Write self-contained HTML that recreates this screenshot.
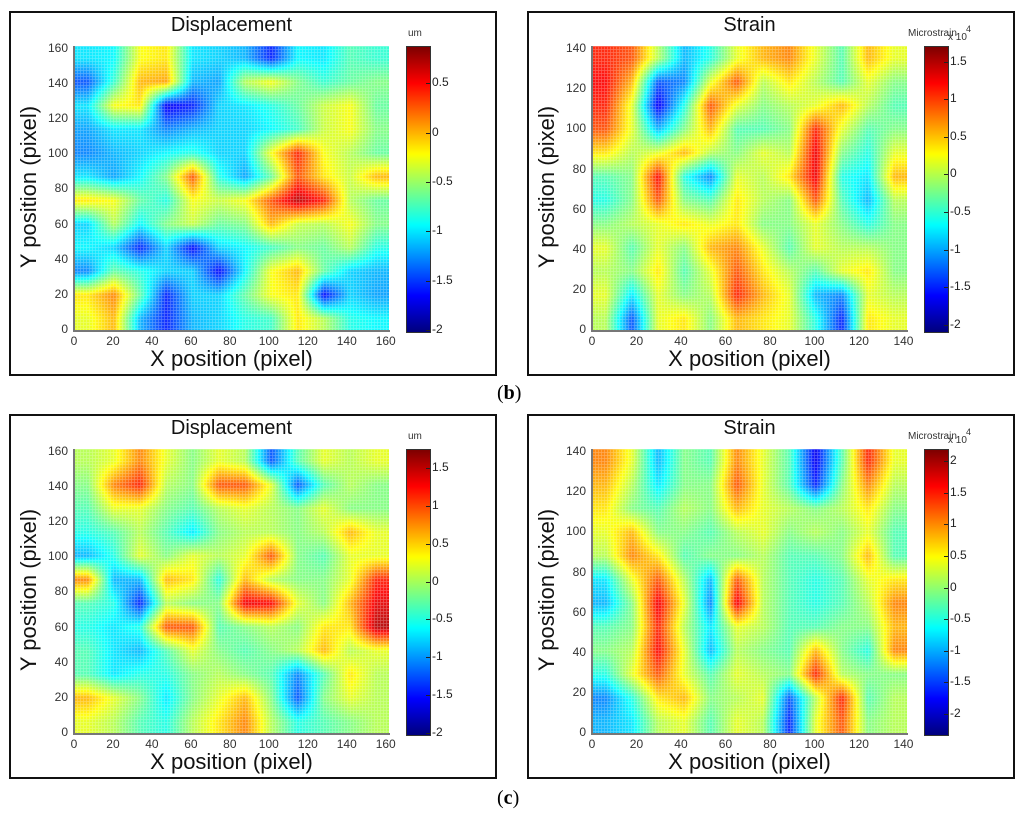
<!DOCTYPE html>
<html><head><meta charset="utf-8">
<style>
body{margin:0;background:#fff;width:1024px;height:815px;overflow:hidden;font-family:"Liberation Sans",sans-serif}
#root{position:relative;width:1024px;height:815px}
.panel{position:absolute;border:2px solid #111;box-sizing:border-box;background:#fff}
canvas{position:absolute}
.t{position:absolute;white-space:nowrap;color:#111}
.plab{position:absolute;font-family:"Liberation Serif",serif;font-size:20px}
</style></head><body>
<div id="root">
<div class="plab" style="left:497px;top:382px">(<b>b</b>)</div>
<div class="plab" style="left:497px;top:787px">(<b>c</b>)</div>
</div>
<script>
// Displacement (b), normalized colormap levels, rows top->bottom
const dispB = [
[.35,.37,.62,.65,.35,.33,.3,.15,.37,.35,.45,.42],
[.2,.42,.7,.72,.3,.28,.55,.62,.5,.42,.47,.5],
[.35,.62,.65,.1,.15,.33,.35,.4,.47,.57,.62,.47],
[.28,.35,.35,.25,.3,.33,.33,.37,.43,.57,.62,.5],
[.25,.3,.33,.37,.4,.33,.33,.62,.85,.62,.55,.47],
[.35,.28,.37,.5,.8,.4,.28,.47,.8,.65,.57,.7],
[.65,.62,.47,.4,.62,.57,.62,.8,.95,.85,.55,.47],
[.33,.55,.37,.5,.57,.47,.5,.7,.57,.55,.62,.5],
[.37,.33,.15,.33,.12,.33,.37,.43,.5,.47,.55,.4],
[.25,.47,.4,.33,.33,.12,.37,.62,.7,.47,.33,.3],
[.65,.75,.47,.15,.33,.33,.47,.62,.65,.12,.33,.28],
[.6,.7,.3,.15,.3,.33,.4,.43,.65,.55,.4,.37]];
const strainB = [
[.85,.8,.55,.3,.4,.6,.7,.75,.6,.45,.7,.6],
[.88,.7,.2,.25,.6,.8,.55,.65,.55,.45,.6,.5],
[.85,.6,.1,.4,.8,.6,.5,.55,.6,.7,.55,.45],
[.8,.6,.3,.5,.7,.45,.45,.5,.85,.6,.45,.5],
[.65,.55,.6,.7,.55,.5,.6,.55,.9,.5,.4,.6],
[.45,.5,.88,.4,.25,.6,.55,.65,.9,.4,.35,.7],
[.4,.5,.8,.5,.45,.65,.55,.5,.8,.45,.3,.55],
[.5,.55,.6,.65,.6,.65,.5,.5,.6,.5,.4,.5],
[.6,.45,.6,.5,.7,.75,.6,.45,.6,.55,.55,.5],
[.55,.5,.65,.45,.6,.8,.65,.55,.45,.6,.65,.5],
[.6,.35,.6,.5,.55,.85,.7,.6,.3,.25,.6,.55],
[.55,.2,.6,.65,.5,.7,.65,.6,.4,.15,.65,.6]];
const dispC = [
[.55,.6,.75,.6,.5,.6,.55,.2,.45,.6,.55,.6],
[.5,.75,.85,.55,.5,.8,.8,.6,.2,.45,.55,.5],
[.45,.6,.6,.5,.45,.55,.6,.55,.5,.6,.5,.5],
[.4,.45,.55,.45,.35,.5,.55,.55,.5,.55,.7,.6],
[.3,.4,.6,.5,.6,.55,.6,.8,.5,.45,.6,.6],
[.75,.3,.3,.7,.65,.4,.7,.55,.5,.5,.6,.85],
[.45,.4,.15,.55,.5,.5,.9,.88,.6,.5,.7,.9],
[.4,.35,.4,.8,.8,.45,.5,.55,.5,.65,.65,.95],
[.45,.35,.3,.45,.6,.5,.45,.5,.55,.7,.55,.6],
[.45,.35,.4,.4,.5,.55,.5,.45,.25,.45,.65,.55],
[.7,.6,.5,.35,.5,.6,.7,.5,.2,.5,.6,.55],
[.6,.55,.45,.4,.55,.65,.75,.55,.4,.45,.5,.55]];
const strainC = [
[.75,.6,.3,.5,.45,.75,.6,.45,.1,.45,.85,.6],
[.7,.55,.35,.5,.5,.8,.6,.45,.15,.5,.75,.55],
[.65,.5,.45,.55,.5,.7,.6,.55,.5,.55,.65,.5],
[.6,.7,.5,.5,.45,.55,.6,.5,.55,.5,.6,.45],
[.55,.75,.65,.45,.5,.5,.55,.45,.45,.5,.7,.45],
[.35,.6,.8,.55,.3,.8,.55,.45,.4,.45,.6,.65],
[.3,.5,.9,.6,.25,.9,.55,.45,.4,.45,.55,.75],
[.45,.5,.85,.55,.35,.6,.55,.45,.45,.5,.5,.7],
[.5,.55,.88,.6,.3,.55,.5,.45,.7,.5,.4,.75],
[.4,.6,.8,.6,.45,.6,.55,.5,.85,.55,.5,.5],
[.25,.4,.65,.7,.5,.55,.6,.2,.55,.85,.45,.55],
[.3,.35,.55,.6,.45,.6,.55,.15,.6,.8,.5,.55]];
const xTicksDisp = [0,20,40,60,80,100,120,140,160];
const xTicksStrain = [0,20,40,60,80,100,120,140];
const cbTicksB1 = [0.5,0,-0.5,-1,-1.5,-2];
const cbTicksB2 = [1.5,1,0.5,0,-0.5,-1,-1.5,-2];
const cbTicksC1 = [1.5,1,0.5,0,-0.5,-1,-1.5,-2];
const cbTicksC2 = [2,1.5,1,0.5,0,-0.5,-1,-1.5,-2];

function jet(v){v=Math.max(0,Math.min(1,v));
 const c=x=>Math.max(0,Math.min(1,1.5-Math.abs(4*v-x)));
 return [c(3)*255,c(2)*255,c(1)*255];}
const root=document.getElementById('root');
function txt(s,x,y,size,name,extra){const d=document.createElement('div');d.className='t';
 d.textContent=s;d.style.left=x+'px';d.style.top=y+'px';d.style.fontSize=size+'px';
 if(extra)Object.assign(d.style,extra);
 
 
 root.appendChild(d);return d;}
function panel(o){
 const p=document.createElement('div');p.className='panel';
 Object.assign(p.style,{left:o.bx+'px',top:o.by+'px',width:'488px',height:'365px'});
 
 
 root.appendChild(p);
 const X0=o.bx+65,Y0=o.by+35,W=315,H=284;
 const cv=document.createElement('canvas');cv.width=W;cv.height=H;
 cv.style.left=X0+'px';cv.style.top=Y0+'px';
 
 
 root.appendChild(cv);
 const ctx=cv.getContext('2d');const im=ctx.createImageData(W,H);
 const g=o.grid,R=g.length,C=g[0].length;
 for(let y=0;y<H;y++)for(let x=0;x<W;x++){
  const gx=Math.max(0,Math.min(C-1.0001,x/W*C-0.5)),gy=Math.max(0,Math.min(R-1.0001,y/H*R-0.5));
  const i=Math.floor(gx),j=Math.floor(gy),fx=gx-i,fy=gy-j;
  const v=g[j][i]*(1-fx)*(1-fy)+g[j][i+1]*fx*(1-fy)+g[j+1][i]*(1-fx)*fy+g[j+1][i+1]*fx*fy;
  let c=jet(v);const k=(y*W+x)*4;
  const wl=(x%3==0||y%3==0)?0.35:0;
  im.data[k]=c[0]+(255-c[0])*wl;im.data[k+1]=c[1]+(255-c[1])*wl;im.data[k+2]=c[2]+(255-c[2])*wl;im.data[k+3]=255;}
 ctx.putImageData(im,0,0);
 const ax=document.createElement('div');
 Object.assign(ax.style,{position:'absolute',left:(X0-1)+'px',top:Y0+'px',width:W+'px',height:H+'px',borderLeft:'2px solid #777',borderBottom:'2px solid #777'});
 
 
 root.appendChild(ax);
 const sx=v=>X0+v/o.max*W, sy=v=>Y0+H-v/o.max*H;
 o.ticks.forEach(t=>{
  txt(String(t),sx(t)-10,Y0+H+4,12,'x-tick-label',{width:'20px',textAlign:'center',color:'#333'});
  txt(String(t),X0-30,sy(t)-8,12,'y-tick-label',{width:'24px',textAlign:'right',color:'#333'});
 });
 txt(o.title,X0,o.by+3,20,o.name+'-title',{width:W+'px',textAlign:'center'});
 txt('X position (pixel)',X0,Y0+H+16,22,'x-axis-title',{width:W+'px',textAlign:'center'});
 txt('Y position (pixel)',0,Y0+H/2-14,22,'y-axis-title',{width:H+'px',textAlign:'center',transform:'rotate(-90deg)',left:(o.bx+20-H/2)+'px'});
 const CX=o.bx+397,CW=23;
 const cb=document.createElement('canvas');cb.width=CW;cb.height=H+1;
 cb.style.left=CX+'px';cb.style.top=Y0+'px';cb.style.border='1px solid #333';
 
 
 root.appendChild(cb);
 const c2=cb.getContext('2d');
 for(let y=0;y<=H;y++){const c=jet(1-y/H);c2.fillStyle=`rgb(${c[0]|0},${c[1]|0},${c[2]|0})`;c2.fillRect(0,y,CW,1);}
 const cy=v=>Y0+H-(v-o.cmin)/(o.cmax-o.cmin)*H;
 o.cticks.forEach(t=>{
  const tk=document.createElement('div');
  Object.assign(tk.style,{position:'absolute',left:(CX+CW-3)+'px',top:cy(t)+'px',width:'4px',height:'1px',background:'#222'});
  
  
  root.appendChild(tk);
  txt(String(t),CX+CW+3,cy(t)-8,12,'colorbar-tick-label',{color:'#222'});
 });
 txt(o.unit,CX+(o.exp?-16:2),Y0-18,10,'colorbar-unit',{color:'#333'});
 if(o.exp){txt('x 10',CX+24,Y0-14,10,'colorbar-exponent',{color:'#333'});txt('4',CX+42,Y0-22,9,'colorbar-exponent-power',{color:'#333'});}
}
panel({name:'displacement-b',bx:9,by:11,grid:dispB,max:161.7,ticks:xTicksDisp,title:'Displacement',cmin:-2,cmax:0.88,cticks:cbTicksB1,unit:'um'});
panel({name:'strain-b',bx:527,by:11,grid:strainB,max:141.6,ticks:xTicksStrain,title:'Strain',cmin:-2.07,cmax:1.71,cticks:cbTicksB2,unit:'Microstrain',exp:true});
panel({name:'displacement-c',bx:9,by:414,grid:dispC,max:161.7,ticks:xTicksDisp,title:'Displacement',cmin:-2,cmax:1.75,cticks:cbTicksC1,unit:'um'});
panel({name:'strain-c',bx:527,by:414,grid:strainC,max:141.6,ticks:xTicksStrain,title:'Strain',cmin:-2.3,cmax:2.19,cticks:cbTicksC2,unit:'Microstrain',exp:true});
</script>
</body></html>
